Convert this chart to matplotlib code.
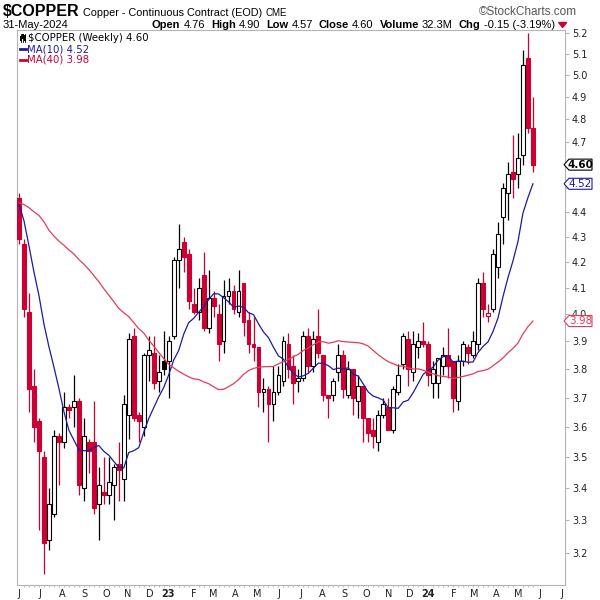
import matplotlib
matplotlib.use("Agg")
import matplotlib.pyplot as plt
import matplotlib.dates as mdates
from matplotlib.patches import Polygon, Rectangle
from matplotlib.lines import Line2D
from matplotlib.ticker import FixedLocator, NullLocator, NullFormatter, FuncFormatter
import numpy as np
import pandas as pd

W, H = 600, 600
RED = "#cc0033"
NAVY = "#1c1c99"
MA40_COL = "#e23c5a"
FRAME = "#b4b4b4"

# weekly bars (week ending Friday)
week_end = pd.date_range("2022-06-10", "2024-05-31", freq="W-FRI")

opens = [
    4.46, 4.27, 4.01, 3.74, 3.62, 3.50, 3.24, 3.32, 3.57, 3.55,
    3.67, 3.67, 3.69, 3.40, 3.55, 3.55, 3.35, 3.39, 3.38, 3.41,
    3.48, 3.43, 3.64, 3.92, 3.64, 3.60, 3.85, 3.86, 3.76, 3.83,
    3.83, 3.92, 4.21, 4.28, 4.23, 4.04, 4.01, 4.15, 3.95, 4.06,
    4.00, 3.90, 4.07, 4.09, 4.01, 4.12, 3.98, 3.89, 3.88, 3.72,
    3.73, 3.68, 3.72, 3.76, 3.89, 3.81, 3.76, 3.77, 3.92, 3.81,
    3.92, 3.85, 3.71, 3.71, 3.79, 3.85, 3.71, 3.80, 3.69, 3.74,
    3.63, 3.59, 3.55, 3.64, 3.67, 3.59, 3.72, 3.82, 3.91, 3.79,
    3.88, 3.90, 3.89, 3.75, 3.75, 3.81, 3.85, 3.83, 3.69, 3.83,
    3.88, 3.85, 3.89, 4.12, 3.995, 4.02, 4.18, 4.38, 4.48, 4.57,
    4.56, 4.64, 5.08, 4.76,
]
highs = [
    4.48, 4.29, 4.08, 3.80, 3.63, 3.52, 3.40, 3.59, 3.58, 3.72,
    3.68, 3.78, 3.70, 3.63, 3.56, 3.69, 3.47, 3.50, 3.50, 3.48,
    3.55, 3.71, 3.93, 3.95, 3.65, 3.86, 3.92, 3.92, 3.85, 3.94,
    3.92, 4.22, 4.35, 4.30, 4.25, 4.10, 4.14, 4.24, 4.17, 4.09,
    4.04, 4.13, 4.14, 4.11, 4.17, 4.12, 4.01, 3.99, 3.88, 3.77,
    3.74, 3.81, 3.81, 3.92, 3.93, 3.85, 3.80, 3.94, 3.95, 3.94,
    4.02, 3.85, 3.71, 3.77, 3.89, 3.87, 3.83, 3.80, 3.78, 3.74,
    3.63, 3.63, 3.66, 3.70, 3.70, 3.74, 3.82, 3.93, 3.94, 3.94,
    3.93, 3.97, 3.90, 3.83, 3.84, 3.88, 3.95, 3.83, 3.85, 3.90,
    3.89, 3.94, 4.14, 4.16, 4.04, 4.25, 4.36, 4.52, 4.61, 4.73,
    4.74, 5.12, 5.20, 4.90,
]
lows = [
    4.27, 3.99, 3.65, 3.55, 3.27, 3.14, 3.21, 3.31, 3.41, 3.53,
    3.63, 3.60, 3.38, 3.36, 3.45, 3.32, 3.24, 3.35, 3.35, 3.30,
    3.36, 3.36, 3.56, 3.62, 3.55, 3.57, 3.76, 3.73, 3.72, 3.78,
    3.70, 3.91, 4.10, 4.16, 4.02, 4.00, 3.98, 3.94, 3.93, 3.99,
    3.83, 3.86, 4.04, 4.00, 3.99, 3.92, 3.86, 3.83, 3.67, 3.65,
    3.55, 3.62, 3.71, 3.74, 3.77, 3.68, 3.72, 3.76, 3.79, 3.79,
    3.84, 3.69, 3.63, 3.69, 3.76, 3.70, 3.70, 3.64, 3.63, 3.55,
    3.55, 3.53, 3.52, 3.63, 3.59, 3.58, 3.71, 3.80, 3.74, 3.76,
    3.84, 3.88, 3.74, 3.70, 3.70, 3.78, 3.77, 3.65, 3.66, 3.81,
    3.82, 3.84, 3.87, 3.99, 3.97, 4.01, 4.14, 4.27, 4.37, 4.46,
    4.50, 4.60, 4.74, 4.57,
]
closes = [
    4.29, 4.02, 3.73, 3.60, 3.52, 3.23, 3.35, 3.57, 3.55, 3.67,
    3.66, 3.69, 3.41, 3.57, 3.52, 3.34, 3.41, 3.38, 3.42, 3.47,
    3.46, 3.68, 3.91, 3.63, 3.62, 3.85, 3.87, 3.75, 3.79, 3.80,
    3.90, 4.21, 4.25, 4.22, 4.05, 4.01, 4.10, 3.95, 4.06, 4.03,
    3.89, 4.07, 4.09, 4.02, 4.09, 3.97, 3.89, 3.88, 3.72, 3.73,
    3.68, 3.72, 3.78, 3.90, 3.80, 3.75, 3.77, 3.92, 3.81, 3.91,
    3.86, 3.71, 3.70, 3.76, 3.85, 3.73, 3.80, 3.70, 3.74, 3.63,
    3.58, 3.57, 3.64, 3.68, 3.59, 3.73, 3.78, 3.92, 3.80, 3.89,
    3.90, 3.89, 3.78, 3.80, 3.84, 3.85, 3.81, 3.70, 3.83, 3.89,
    3.86, 3.90, 4.12, 4.02, 4.005, 4.23, 4.31, 4.50, 4.56, 4.54,
    4.63, 5.05, 4.76, 4.60,
]
# closes of the 39 weeks before the window, only needed to seed the MAs
prior_closes = [
    4.32, 4.26, 4.28, 4.10, 4.28, 4.72, 4.50, 4.37, 4.33, 4.40,
    4.34, 4.28, 4.29, 4.35, 4.31, 4.33, 4.46, 4.40, 4.46, 4.48,
    4.32, 4.50, 4.51, 4.53, 4.47, 4.93, 4.61, 4.70, 4.68, 4.74,
    4.70, 4.74, 4.63, 4.42, 4.30, 4.18, 4.30, 4.30, 4.47,
]

y_ticks = [3.2, 3.3, 3.4, 3.5, 3.6, 3.7, 3.8, 3.9, 4.0, 4.1, 4.2,
           4.3, 4.4, 4.5, 4.6, 4.7, 4.8, 4.9, 5.0, 5.1, 5.2]
hidden_labels = [4.5, 4.6]  # sit under the price tags
month_letters = "JFMAMJJASOND"

o = np.array(opens)
hi = np.array(highs)
lo = np.array(lows)
c = np.array(closes)
all_c = pd.Series(prior_closes + closes)
ma10 = all_c.rolling(10).mean().iloc[len(prior_closes):].to_numpy()
ma40 = all_c.rolling(40).mean().iloc[len(prior_closes):].to_numpy()
prev_c = np.r_[prior_closes[-1], c[:-1]]

fig = plt.figure(figsize=(W / 100, H / 100), dpi=100)
ax = fig.add_axes([16.5 / W, 1 - 585 / H, (565 - 16.5) / W, (585 - 30) / H])

x = mdates.date2num(week_end)
col = np.where(c >= prev_c, "black", RED)
face = np.where(c > o, "white", col)
body_lo = np.minimum(o, c)
body_hi = np.maximum(o, c)
body_h = np.maximum(body_hi - body_lo, 0.004)

ax.vlines(x, lo, hi, colors=col, lw=0.9, zorder=2)
ax.bar(x, body_h, bottom=body_lo, width=5.4, color=face, edgecolor=col,
       linewidth=0.8, zorder=3)
ax.plot(x, ma10, color=NAVY, lw=0.9, zorder=4)
ax.plot(x, ma40, color=MA40_COL, lw=0.9, zorder=4)

ax.set_yscale("log")
ax.set_ylim(3.107, 5.216)
ax.set_xlim(x[0] - 3.5, x[-1] + 45)

# right price axis
ax.yaxis.tick_right()
ax.yaxis.set_major_locator(FixedLocator(y_ticks))
ax.yaxis.set_major_formatter(
    FuncFormatter(lambda v, p: "" if round(v, 1) in hidden_labels else f"{v:.1f}"))
ax.yaxis.set_minor_locator(NullLocator())
ax.yaxis.set_minor_formatter(NullFormatter())
ax.tick_params(axis="y", length=3, width=0.8, color=FRAME, pad=2, labelsize=7,
               labelcolor="#222222")

# month labels, drawn a little right of the month start
months = pd.date_range("2022-06-01", "2024-07-01", freq="MS")
lab_pos, lab_txt = [], []
for m in months:
    if m.month == 1:
        lab_pos.append(mdates.date2num(m + pd.Timedelta(days=4)))
        lab_txt.append(str(m.year)[2:])
    else:
        lab_pos.append(mdates.date2num(m + pd.Timedelta(days=9)))
        lab_txt.append(month_letters[m.month - 1])
ax.set_xticks(lab_pos)
ax.set_xticklabels(lab_txt)
for t in ax.get_xticklabels():
    if t.get_text().isdigit():
        t.set_fontweight("bold")
        t.set_fontsize(8)
ax.tick_params(axis="x", length=0, pad=3, labelsize=7, labelcolor="#222222")
ax.set_xticks(x, minor=True)
ax.tick_params(axis="x", which="minor", length=1.5, color=FRAME, width=0.6)

for s in ax.spines.values():
    s.set_color(FRAME)
    s.set_linewidth(0.8)


# price tags on the right edge
def tag(val, txt, color, bold=False):
    yd = ax.transData.transform((x[0], val))[1]
    x0, x1, hh, notch = 564, 592, 5.5, 5
    pts = [(x0, yd), (x0 + notch, yd + hh), (x1, yd + hh), (x1, yd - hh), (x0 + notch, yd - hh)]
    pts = [(px / W, py / H) for px, py in pts]
    fig.add_artist(Polygon(pts, closed=True, transform=fig.transFigure,
                           facecolor="white", edgecolor=color, lw=0.8, zorder=10))
    fig.text((x0 + notch + x1) / 2 / W, yd / H, txt, ha="center", va="center",
             fontsize=7.5, color=color, fontweight="bold" if bold else "normal",
             zorder=11)


tag(c[-1], f"{c[-1]:.2f}", "black", bold=True)
tag(ma10[-1], f"{ma10[-1]:.2f}", NAVY)
tag(ma40[-1], f"{ma40[-1]:.2f}", MA40_COL)

# header
r = fig.canvas.get_renderer()
HF = "Liberation Sans"


def run(xp, yp, pieces):
    for s, kw, gap in pieces:
        t = fig.text(xp / W, 1 - yp / H, s, ha="left", va="baseline", family=HF, **kw)
        xp = t.get_window_extent(r).x1 + gap
    return xp


run(3, 15.5, [(r"\$COPPER", dict(fontsize=11.5, fontweight="bold"), 3),
              ("Copper - Continuous Contract (EOD)", dict(fontsize=7.8), 4),
              ("CME", dict(fontsize=7), 0)])
fig.text(577 / W, 1 - 15 / H, "\u00a9StockCharts.com", ha="right", va="baseline",
         family=HF, fontsize=8.5, color="#555555")
run(3, 27.5, [("31-May-2024", dict(fontsize=8), 0)])
end = run(152, 27.5, [
    ("Open", dict(fontsize=8, fontweight="bold"), 3), ("4.76", dict(fontsize=8), 6),
    ("High", dict(fontsize=8, fontweight="bold"), 3), ("4.90", dict(fontsize=8), 6),
    ("Low", dict(fontsize=8, fontweight="bold"), 3), ("4.57", dict(fontsize=8), 6),
    ("Close", dict(fontsize=8, fontweight="bold"), 3), ("4.60", dict(fontsize=8), 6),
    ("Volume", dict(fontsize=8, fontweight="bold"), 3), ("32.3M", dict(fontsize=8), 6),
    ("Chg", dict(fontsize=8, fontweight="bold"), 3), ("-0.15 (-3.19%)", dict(fontsize=8), 4),
])
fig.add_artist(Polygon([((end) / W, 1 - 22.5 / H), ((end + 8) / W, 1 - 22.5 / H),
                        ((end + 4) / W, 1 - 27.5 / H)], closed=True,
                       transform=fig.transFigure, color=RED))

# legend inside the panel
LF = "DejaVu Sans"
for dx, y0, y1 in [(0, 36.5, 40.5), (2, 34, 39), (4, 35, 41)]:
    fig.add_artist(Line2D([(21 + dx) / W] * 2, [1 - 33.5 / H, 1 - 42 / H],
                          transform=fig.transFigure, color="black", lw=0.6))
    fig.add_artist(Rectangle(((20.3 + dx) / W, 1 - y1 / H), 1.5 / W, (y1 - y0) / H,
                             transform=fig.transFigure, facecolor="black", lw=0))
fig.text(28 / W, 1 - 38 / H, rf"\$COPPER (Weekly) {c[-1]:.2f}", ha="left", va="center",
         family=LF, fontsize=7.3, color="black")
fig.add_artist(Line2D([20 / W, 26 / W], [1 - 49 / H] * 2, transform=fig.transFigure,
                      color=NAVY, lw=2))
fig.text(27 / W, 1 - 49 / H, f"MA(10) {ma10[-1]:.2f}", ha="left", va="center",
         family=LF, fontsize=7.3, color=NAVY)
fig.add_artist(Line2D([20 / W, 26 / W], [1 - 60 / H] * 2, transform=fig.transFigure,
                      color=RED, lw=2))
fig.text(27 / W, 1 - 60 / H, f"MA(40) {ma40[-1]:.2f}", ha="left", va="center",
         family=LF, fontsize=7.3, color=RED)

fig.savefig("out.png", dpi=100, facecolor="white")
